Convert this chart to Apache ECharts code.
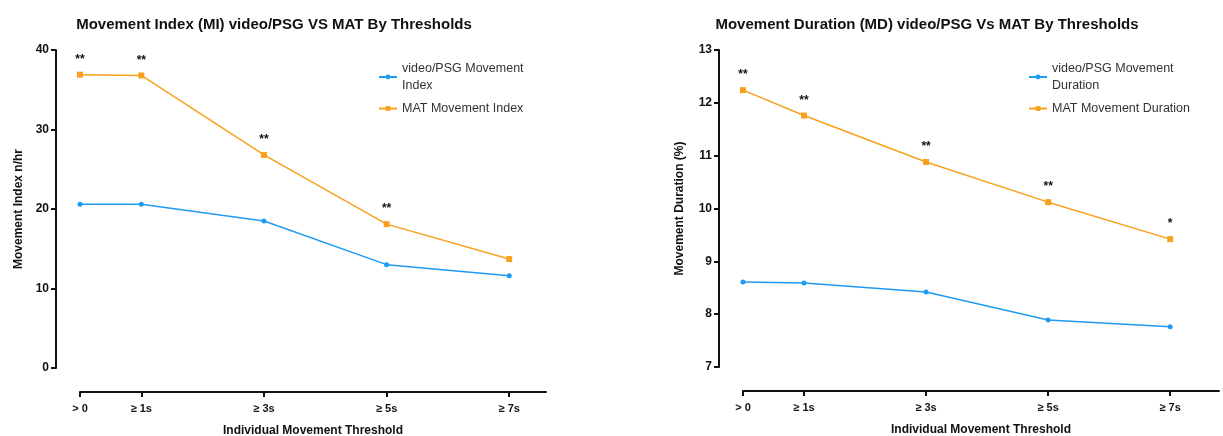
<!DOCTYPE html>
<html>
<head>
<meta charset="utf-8">
<script src="https://cdn.jsdelivr.net/npm/echarts@6/dist/echarts.min.js"></script>
<style>
  html, body { margin: 0; padding: 0; background: #fff; }
  #root { width: 1223px; height: 436px; }
</style>
</head>
<body>
<div id="root"></div>
<script>
// thresholds (seconds) and their tick labels
const thresholds = [0, 1, 3, 5, 7];
const tickLabels = ['> 0', '≥ 1s', '≥ 3s', '≥ 5s', '≥ 7s'];

// Movement Index (n/hr)
const miVideo = [20.6, 20.6, 18.5, 13.0, 11.6];
const miMat = [36.9, 36.8, 26.8, 18.1, 13.7];
const miStars = ['**', '**', '**', '**', ''];

// Movement Duration (%)
const mdVideo = [8.61, 8.59, 8.42, 7.89, 7.76];
const mdMat = [12.24, 11.76, 10.88, 10.12, 9.42];
const mdStars = ['**', '**', '**', '**', '*'];

const BLUE = '#1e9bf2';
const ORANGE = '#f7a11d';
const FONT = 'Liberation Sans, Arial, sans-serif';

const pairs = (vals) => thresholds.map((t, i) => [t, vals[i]]);

const xAxisFor = (gridIndex, max) => ({
  type: 'value',
  gridIndex: gridIndex,
  min: 0,
  max: max,
  offset: 24,
  name: 'Individual Movement Threshold',
  nameLocation: 'middle',
  nameGap: 33,
  nameTextStyle: { fontFamily: FONT, fontSize: 12, fontWeight: 'bold', color: '#111' },
  splitLine: { show: false },
  axisLine: { show: true, onZero: false, lineStyle: { color: '#111', width: 2 } },
  axisTick: { show: true, customValues: thresholds, length: 5, lineStyle: { color: '#111', width: 2 } },
  axisLabel: {
    customValues: thresholds,
    formatter: (v) => tickLabels[thresholds.indexOf(v)] || '',
    fontFamily: FONT, fontSize: 11, fontWeight: 'bold', color: '#111', margin: 11
  }
});

const yAxisFor = (gridIndex, min, max, interval, name, gap) => ({
  type: 'value',
  gridIndex: gridIndex,
  min: min,
  max: max,
  interval: interval,
  offset: 24,
  name: name,
  nameLocation: 'middle',
  nameGap: gap,
  nameTextStyle: { fontFamily: FONT, fontSize: 12, fontWeight: 'bold', color: '#111' },
  splitLine: { show: false },
  axisLine: { show: true, onZero: false, lineStyle: { color: '#111', width: 2 } },
  axisTick: { show: true, length: 5, lineStyle: { color: '#111', width: 2 } },
  axisLabel: { fontFamily: FONT, fontSize: 12, fontWeight: 'bold', color: '#111', margin: 7 }
});

const lineSeries = (name, vals, color, symbol, size, axisIdx, stars) => ({
  name: name,
  type: 'line',
  xAxisIndex: axisIdx,
  yAxisIndex: axisIdx,
  data: pairs(vals),
  symbol: symbol,
  symbolSize: size,
  showSymbol: true,
  itemStyle: { color: color },
  lineStyle: { color: color, width: 1.5 },
  label: stars ? {
    show: true,
    position: 'top',
    distance: 6,
    formatter: (p) => stars[p.dataIndex],
    fontFamily: FONT, fontSize: 12, fontWeight: 'bold', color: '#111'
  } : { show: false },
  emphasis: { disabled: true },
  animation: false
});

const legendFor = (left, names) => ({
  orient: 'vertical',
  left: left,
  top: 55,
  itemWidth: 18,
  itemHeight: 6,
  itemGap: 6,
  data: names,
  formatter: (n) => n.replace('video/PSG Movement ', 'video/PSG Movement\n'),
  textStyle: { fontFamily: FONT, fontSize: 12.5, color: '#333', lineHeight: 17 }
});

const chart = echarts.init(document.getElementById('root'));

chart.setOption({
  backgroundColor: '#fff',
  animation: false,
  title: [
    {
      text: 'Movement Index (MI) video/PSG VS MAT By Thresholds',
      left: 269, top: 12, textAlign: 'center',
      textStyle: { fontFamily: FONT, fontSize: 15, fontWeight: 'bold', color: '#111' }
    },
    {
      text: 'Movement Duration (MD) video/PSG Vs MAT By Thresholds',
      left: 922, top: 12, textAlign: 'center',
      textStyle: { fontFamily: FONT, fontSize: 15, fontWeight: 'bold', color: '#111' }
    }
  ],
  legend: [
    legendFor(373, ['video/PSG Movement Index', 'MAT Movement Index']),
    legendFor(1023, ['video/PSG Movement Duration', 'MAT Movement Duration'])
  ],
  grid: [
    { left: 80, top: 50, width: 466, height: 318, outerBoundsMode: 'none' },
    { left: 743, top: 50, width: 476, height: 317, outerBoundsMode: 'none' }
  ],
  xAxis: [xAxisFor(0, 7.6), xAxisFor(1, 7.8)],
  yAxis: [
    yAxisFor(0, 0, 40, 10, 'Movement Index n/hr', 31),
    yAxisFor(1, 7, 13, 1, 'Movement Duration (%)', 33)
  ],
  series: [
    lineSeries('video/PSG Movement Index', miVideo, BLUE, 'circle', 5, 0, null),
    lineSeries('MAT Movement Index', miMat, ORANGE, 'rect', 6, 0, miStars),
    lineSeries('video/PSG Movement Duration', mdVideo, BLUE, 'circle', 5, 1, null),
    lineSeries('MAT Movement Duration', mdMat, ORANGE, 'rect', 6, 1, mdStars)
  ]
});
</script>
</body>
</html>
